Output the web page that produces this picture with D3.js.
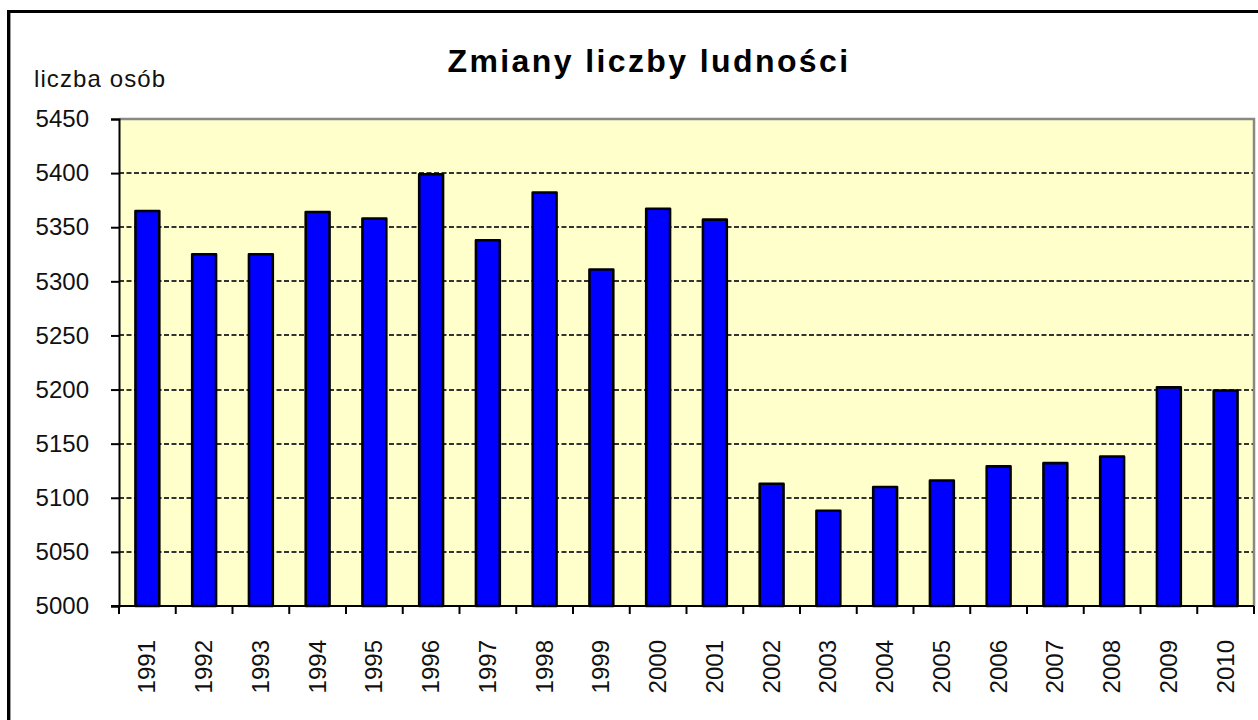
<!DOCTYPE html>
<html>
<head>
<meta charset="utf-8">
<script src="https://cdn.jsdelivr.net/npm/d3@7"></script>
<style>
  body { margin: 0; background: #fff; }
  svg { display: block; font-family: "Liberation Sans", Arial, sans-serif; }
</style>
</head>
<body>
<svg id="chart"></svg>
<script>
let years = ['1991','1992','1993','1994','1995','1996','1997','1998','1999','2000',
             '2001','2002','2003','2004','2005','2006','2007','2008','2009','2010']
let population = [5365, 5325, 5325, 5364, 5358, 5399, 5338, 5382, 5311, 5367,
                  5357, 5113, 5088, 5110, 5116, 5129, 5132, 5138, 5202, 5199]
let yTicks = [5000, 5050, 5100, 5150, 5200, 5250, 5300, 5350, 5400, 5450]

let svgWidth = 1258, svgHeight = 720
let plot = { left: 119, top: 119, right: 1254, bottom: 606 }

let svg = d3.select('#chart').attr('width', svgWidth).attr('height', svgHeight)

// outer frame of the chart object (runs past the right/bottom edge)
svg.append('rect')
  .attr('x', 8.5).attr('y', 11.5).attr('width', 1300).attr('height', 800)
  .attr('fill', 'none').attr('stroke', '#000').attr('stroke-width', 3)
svg.append('line')
  .attr('x1', 10.5).attr('x2', 10.5).attr('y1', 13).attr('y2', 720)
  .attr('stroke', '#999').attr('stroke-width', 1)

let x = d3.scaleBand().domain(years).range([plot.left, plot.right]).paddingInner(0.58).paddingOuter(0.29)
let xTicks = d3.scaleBand().domain(years).range([plot.left, plot.right])
let y = d3.scaleLinear().domain([5000, 5450]).range([plot.bottom, plot.top])

// plot background
svg.append('rect')
  .attr('x', plot.left).attr('y', plot.top)
  .attr('width', plot.right - plot.left).attr('height', plot.bottom - plot.top)
  .attr('fill', '#ffffcc')

// dashed gridlines
svg.append('g').selectAll('line')
  .data(yTicks.filter(t => t > 5000 && t < 5450))
  .enter().append('line')
  .attr('x1', plot.left).attr('x2', plot.right)
  .attr('y1', d => Math.round(y(d))).attr('y2', d => Math.round(y(d)))
  .attr('stroke', '#333').attr('stroke-width', 2).attr('stroke-dasharray', '5,2.5')

// plot border top / right (gray)
svg.append('path')
  .attr('d', `M${plot.left},${plot.top}H${plot.right}V${plot.bottom}`)
  .attr('fill', 'none').attr('stroke', '#888').attr('stroke-width', 2.5)

// bars
svg.append('g').selectAll('rect')
  .data(population)
  .enter().append('rect')
  .attr('x', (d, i) => x(years[i]))
  .attr('y', d => y(d))
  .attr('width', x.bandwidth())
  .attr('height', d => y(5000) - y(d))
  .attr('fill', '#0000ff')
  .attr('stroke', '#000').attr('stroke-width', 2.6).attr('stroke-linejoin', 'round')

// y axis
let yAxis = d3.axisLeft(y).tickValues(yTicks).tickSize(8).tickPadding(22).tickFormat(d3.format('d'))
let gy = svg.append('g').attr('transform', `translate(${plot.left},0)`).call(yAxis)
gy.select('.domain').attr('stroke', '#000').attr('stroke-width', 2)
gy.selectAll('.tick line').attr('stroke', '#000').attr('stroke-width', 2)
gy.selectAll('text').attr('font-size', 24).attr('fill', '#111')
  .attr('font-family', '"Liberation Sans", Arial, sans-serif')

// x axis: ticks on category boundaries
let gx = svg.append('g').attr('transform', `translate(0,${plot.bottom})`)
gx.append('line').attr('x1', plot.left - 8).attr('x2', plot.right)
  .attr('stroke', '#000').attr('stroke-width', 2)
gx.selectAll('.tk').data(years.concat(['end'])).enter().append('line')
  .attr('class', 'tk')
  .attr('x1', (d, i) => plot.left + i * xTicks.bandwidth())
  .attr('x2', (d, i) => plot.left + i * xTicks.bandwidth())
  .attr('y1', 0).attr('y2', 8)
  .attr('stroke', '#000').attr('stroke-width', 2)
gx.selectAll('text').data(years).enter().append('text')
  .attr('transform', d => `translate(${xTicks(d) + xTicks.bandwidth() / 2 + 8},34) rotate(-90)`)
  .attr('text-anchor', 'end')
  .attr('font-size', 24).attr('fill', '#111')
  .text(d => d)

// title and axis caption
svg.append('text')
  .attr('x', 649).attr('y', 72)
  .attr('text-anchor', 'middle')
  .attr('font-size', 32).attr('font-weight', 'bold').attr('letter-spacing', 2.4)
  .text('Zmiany liczby ludności')

svg.append('text')
  .attr('x', 34).attr('y', 87)
  .attr('font-size', 24).attr('letter-spacing', 1.1).attr('fill', '#111')
  .text('liczba osób')
</script>
</body>
</html>
